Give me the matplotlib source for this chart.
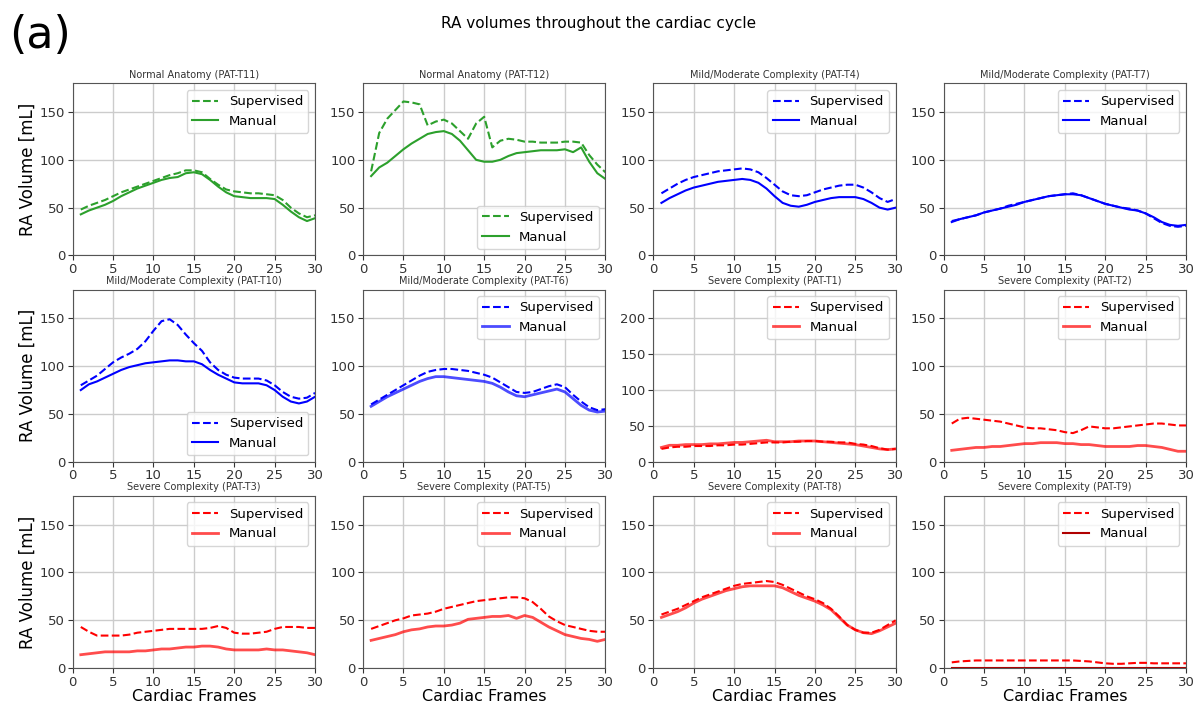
import numpy as np
import matplotlib
matplotlib.use("Agg")
import matplotlib.pyplot as plt

frames = list(range(1, 31))

titles = [
    "Normal Anatomy (PAT-T11)", "Normal Anatomy (PAT-T12)",
    "Mild/Moderate Complexity (PAT-T4)", "Mild/Moderate Complexity (PAT-T7)",
    "Mild/Moderate Complexity (PAT-T10)", "Mild/Moderate Complexity (PAT-T6)",
    "Severe Complexity (PAT-T1)", "Severe Complexity (PAT-T2)",
    "Severe Complexity (PAT-T3)", "Severe Complexity (PAT-T5)",
    "Severe Complexity (PAT-T8)", "Severe Complexity (PAT-T9)",
]

sup_T11 = [48,52,55,58,62,66,69,72,75,78,81,84,86,89,89,87,80,74,69,67,66,65,65,64,63,58,50,44,40,42]
man_T11 = [43,47,50,53,57,62,66,70,73,76,79,81,82,86,87,85,79,72,66,62,61,60,60,60,59,53,46,40,36,39]

sup_T12 = [88,128,143,152,161,160,158,136,140,142,138,130,122,138,145,113,120,122,121,119,119,118,118,118,119,119,118,105,95,87]
man_T12 = [83,92,97,104,111,117,122,127,129,130,127,120,110,100,98,98,100,104,107,108,109,110,110,110,111,108,113,98,86,80]

sup_T4 = [65,70,75,79,82,84,86,88,89,90,91,90,87,81,74,67,63,62,63,66,69,71,73,74,74,71,66,60,56,59]
man_T4 = [55,60,64,68,71,73,75,77,78,79,80,79,76,70,62,55,52,51,53,56,58,60,61,61,61,59,55,50,48,50]

sup_T7 = [36,38,40,42,45,47,49,52,54,56,58,60,62,63,64,65,63,60,57,54,52,50,49,47,44,39,34,31,30,31]
man_T7 = [35,38,40,42,45,47,49,51,53,56,58,60,62,63,64,64,63,60,57,54,52,50,48,47,44,40,35,32,31,32]

sup_T10 = [80,85,90,97,104,109,113,118,126,137,147,149,143,133,124,116,104,96,91,88,87,87,87,85,80,73,68,66,67,72]
man_T10 = [75,81,84,88,92,96,99,101,103,104,105,106,106,105,105,102,96,91,87,83,82,82,82,80,75,68,63,61,63,68]

sup_T6 = [60,65,70,75,80,85,90,94,96,97,97,96,95,93,91,88,83,78,73,72,73,76,79,81,78,70,63,57,54,55]
man_T6 = [58,63,68,72,76,80,84,87,89,89,88,87,86,85,84,82,78,73,69,68,70,72,74,76,73,66,59,54,52,53]

sup_T1 = [18,20,21,21,22,22,22,23,23,24,24,25,26,27,27,27,28,28,29,29,28,28,27,27,25,24,22,19,17,18]
man_T1 = [20,23,23,24,24,24,25,25,26,27,27,28,29,30,28,28,28,29,29,29,28,27,26,25,24,22,20,18,17,18]

sup_T2 = [40,45,46,45,44,43,42,40,38,36,35,35,34,33,31,30,33,37,36,35,35,36,37,38,39,40,40,39,38,38]
man_T2 = [12,13,14,15,15,16,16,17,18,19,19,20,20,20,19,19,18,18,17,16,16,16,16,17,17,16,15,13,11,11]

sup_T3 = [43,38,34,34,34,34,35,37,38,39,40,41,41,41,41,41,42,44,42,37,36,36,37,38,41,43,43,43,42,42]
man_T3 = [14,15,16,17,17,17,17,18,18,19,20,20,21,22,22,23,23,22,20,19,19,19,19,20,19,19,18,17,16,14]

sup_T5 = [41,44,47,50,52,55,56,57,59,62,64,66,68,70,71,72,73,74,74,73,69,62,54,49,45,43,41,39,38,38]
man_T5 = [29,31,33,35,38,40,41,43,44,44,45,47,51,52,53,54,54,55,52,55,53,48,43,39,35,33,31,30,28,30]

sup_T8 = [56,59,62,66,70,74,77,80,83,86,88,89,90,91,90,87,83,79,75,72,68,62,54,45,40,37,37,40,45,50]
man_T8 = [53,56,59,63,68,72,75,78,81,83,85,86,86,86,86,84,80,76,73,70,66,61,53,45,40,37,36,39,43,47]

sup_T9 = [6,7,7.5,8,8,8,8,8,8,8,8,8,8,8,8,8,7.5,7,6,5,4.5,4.5,5,5.5,5.5,5,5,5,5,5]
man_T9 = [0]*30

supervised = [sup_T11, sup_T12, sup_T4, sup_T7, sup_T10, sup_T6,
              sup_T1, sup_T2, sup_T3, sup_T5, sup_T8, sup_T9]
manual = [man_T11, man_T12, man_T4, man_T7, man_T10, man_T6,
          man_T1, man_T2, man_T3, man_T5, man_T8, man_T9]

green = "#2ca02c"
colors = [green, green, "blue", "blue", "blue", "blue",
          "red", "red", "red", "red", "red", "red"]
man_alpha = [1, 1, 1, 1, 1, 0.7, 0.7, 0.7, 0.7, 0.7, 0.7, 0.7]
man_lw = [1.5, 1.5, 1.5, 1.5, 1.5, 2.0, 2.0, 2.0, 2.0, 2.0, 2.0, 2.0]
ymax = [180, 180, 180, 180, 180, 180, 240, 180, 180, 180, 180, 180]
legend_loc = ["upper right", "lower right"] + ["upper right"] * 2 + ["lower right"] + ["upper right"] * 7

fig, axes = plt.subplots(3, 4, figsize=(11.98, 7.10), dpi=100)
fig.subplots_adjust(left=0.0607, right=0.99, top=0.8827, bottom=0.059,
                    wspace=0.198, hspace=0.198)

for i, ax in enumerate(axes.flat):
    c = colors[i]
    ax.plot(frames, supervised[i], "--", color=c, lw=1.5, label="Supervised")
    if i == 11:
        ax.plot(frames, manual[i], "-", color="#b00000", lw=1.5, label="Manual")
    else:
        ax.plot(frames, manual[i], "-", color=c, lw=man_lw[i], alpha=man_alpha[i], label="Manual")
    ax.set_xlim(0, 30)
    ax.set_ylim(0, ymax[i])
    ax.set_xticks([0, 5, 10, 15, 20, 25, 30])
    ax.grid(True, color="#cccccc", lw=1)
    ax.set_axisbelow(True)
    ax.set_title(titles[i], fontsize=7, color="#333333", pad=4)
    ax.tick_params(labelsize=9.5, colors="#333333", pad=2)
    for sp in ax.spines.values():
        sp.set_color("#555555")
    ax.legend(loc=legend_loc[i], fontsize=9.5)
    if i % 4 == 0:
        ax.set_ylabel("RA Volume [mL]", fontsize=12, labelpad=2)
    if i >= 8:
        ax.set_xlabel("Cardiac Frames", fontsize=11.5, labelpad=0)

fig.suptitle("RA volumes throughout the cardiac cycle", fontsize=11, y=0.977)
fig.text(0.008, 0.95, "(a)", fontsize=32, va="center", ha="left")

fig.savefig("out.png", dpi=100)
